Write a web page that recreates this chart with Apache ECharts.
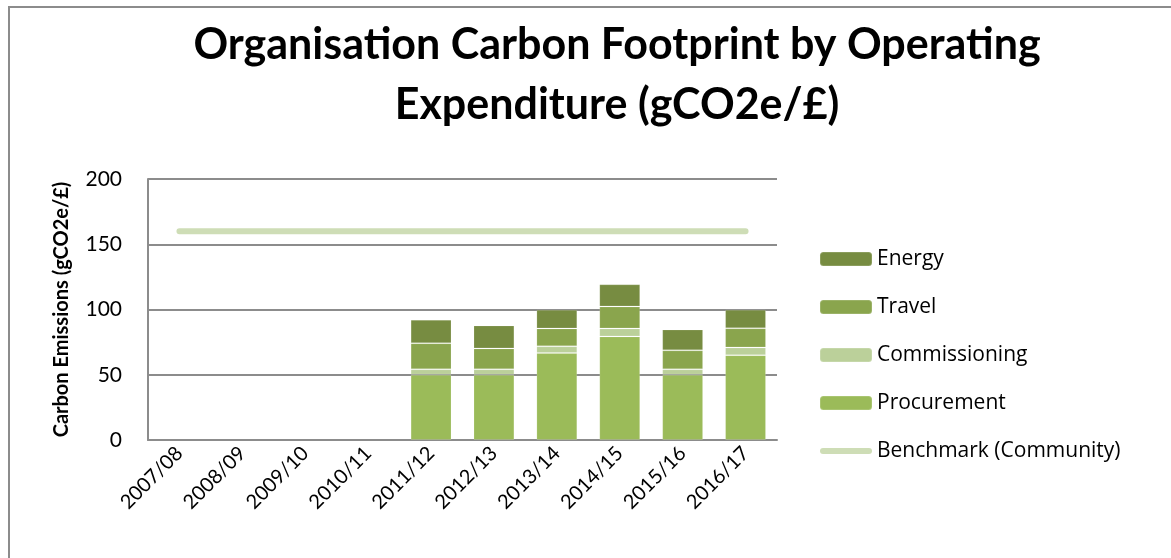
<!DOCTYPE html>
<html>
<head>
<meta charset="utf-8">
<script src="https://cdn.jsdelivr.net/npm/echarts@6/dist/echarts.min.js"></script>
<style>
  html, body { margin: 0; padding: 0; background: #fff; }
  #chart { width: 1171px; height: 558px; }
</style>
</head>
<body>
<div id="chart"></div>
<script>
// values
const years = ['2007/08', '2008/09', '2009/10', '2010/11', '2011/12', '2012/13', '2013/14', '2014/15', '2015/16', '2016/17'];
const procurement = [null, null, null, null, 50, 50, 66.6, 79.4, 50, 65];
const commissioning = [null, null, null, null, 4.2, 4.2, 5.2, 6.1, 4.2, 5.9];
const travel = [null, null, null, null, 20, 16, 13.7, 16.8, 14.5, 14.7];
const energy = [null, null, null, null, 18, 17.6, 14.3, 17, 16, 14.3];
const benchmark = [160, 160, 160, 160, 160, 160, 160, 160, 160, 160];
const yTicks = [0, 50, 100, 150, 200];

const font = 'Lato, "Open Sans", sans-serif';
const chart = echarts.init(document.getElementById('chart'));

const barSeries = (name, data, color) => ({
  name: name,
  type: 'bar',
  stack: 'total',
  barWidth: '65%',
  data: data,
  itemStyle: { color: color, borderColor: 'rgba(255,255,255,0.15)', borderWidth: 1 },
  emphasis: { disabled: true }
});

const option = {
  backgroundColor: '#fff',
  animation: false,
  textStyle: { fontFamily: font },
  title: {
    text: 'Organisation Carbon Footprint by Operating\nExpenditure (gCO2e/£)',
    left: 612,
    textAlign: 'center',
    top: 10,
    textStyle: { fontFamily: font, fontSize: 43, fontWeight: 'bold', color: '#000', lineHeight: 60 }
  },
  legend: {
    orient: 'vertical',
    left: 814,
    top: 242,
    itemWidth: 52,
    itemHeight: 14,
    itemGap: 24,
    textStyle: { fontFamily: '"Open Sans", sans-serif', fontSize: 21, color: '#000', lineHeight: 24 },
    data: [
      { name: 'Energy' },
      { name: 'Travel' },
      { name: 'Commissioning' },
      { name: 'Procurement' },
      { name: 'Benchmark (Community)', icon: 'path://M3,0 L49,0 A3,3 0 0 1 49,6 L3,6 A3,3 0 0 1 3,0 Z' }
    ]
  },
  grid: { left: 148, top: 179, width: 629, height: 261, containLabel: false },
  xAxis: {
    type: 'category',
    data: years,
    boundaryGap: true,
    axisLine: { show: true, lineStyle: { color: '#8c8c8c', width: 2 } },
    axisTick: { show: false },
    axisLabel: { rotate: 45, fontSize: 20, color: '#000', fontFamily: font, margin: 10, interval: 0 }
  },
  yAxis: {
    type: 'value',
    min: yTicks[0],
    max: yTicks[yTicks.length - 1],
    interval: 50,
    name: 'Carbon Emissions (gCO2e/£)',
    nameLocation: 'middle',
    nameGap: 76,
    nameTextStyle: { fontFamily: font, fontSize: 20, fontWeight: 'bold', color: '#000' },
    axisLine: { show: true, lineStyle: { color: '#8c8c8c', width: 2 } },
    axisTick: { show: false },
    splitLine: { lineStyle: { color: '#8c8c8c', width: 2 } },
    axisLabel: { fontSize: 21, color: '#000', fontFamily: font, margin: 26 }
  },
  series: [
    barSeries('Procurement', procurement, '#9BBB59'),
    barSeries('Commissioning', commissioning, '#BBD09A'),
    barSeries('Travel', travel, '#8AA54D'),
    barSeries('Energy', energy, '#778C41'),
    {
      name: 'Benchmark (Community)',
      type: 'line',
      data: benchmark,
      symbol: 'none',
      lineStyle: { color: '#CEDDB6', width: 6, cap: 'round' },
      itemStyle: { color: '#CEDDB6' },
      emphasis: { disabled: true }
    }
  ],
  graphic: [
    {
      type: 'rect',
      shape: { x: 9, y: 7, width: 1300, height: 700 },
      style: { fill: null, stroke: '#8c8c8c', lineWidth: 2 },
      silent: true
    }
  ]
};

chart.setOption(option);
</script>
</body>
</html>
